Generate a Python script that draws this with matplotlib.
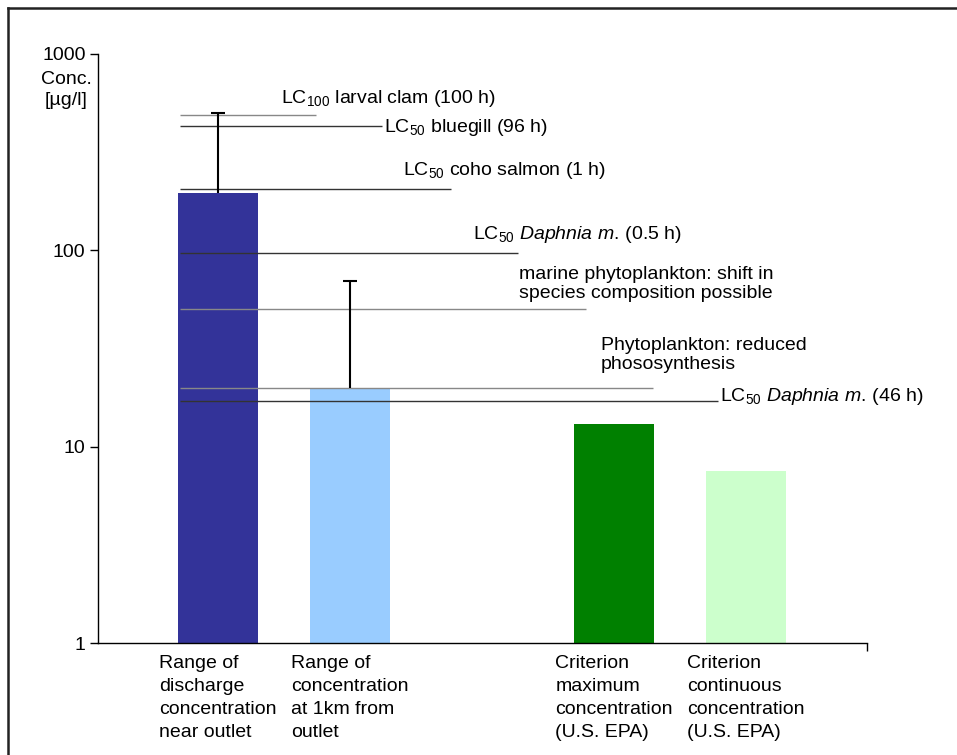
import matplotlib
matplotlib.use("Agg")
import matplotlib.pyplot as plt
from matplotlib.lines import Line2D
import numpy as np

plt.rcParams['font.family'] = ['Liberation Sans', 'DejaVu Sans']
plt.rcParams['mathtext.fontset'] = 'custom'
plt.rcParams['mathtext.rm'] = 'Liberation Sans'
plt.rcParams['mathtext.it'] = 'Liberation Sans:italic'

# data
categories = ['Range of\ndischarge\nconcentration\nnear outlet',
              'Range of\nconcentration\nat 1km from\noutlet',
              'Criterion\nmaximum\nconcentration\n(U.S. EPA)',
              'Criterion\ncontinuous\nconcentration\n(U.S. EPA)']
positions = [0, 1, 3, 4]
values = [195, 20, 13, 7.5]
upper = [500, 70, None, None]
bar_colors = ['#333399', '#99CCFF', '#008000', '#CCFFCC']

ref_labels = ['LC$_{100}$ larval clam (100 h)',
              'LC$_{50}$ bluegill (96 h)',
              'LC$_{50}$ coho salmon (1 h)',
              'LC$_{50}$ $\\mathit{Daphnia\\ m.}\\,$(0.5 h)',
              'marine phytoplankton: shift in\nspecies composition possible',
              'Phytoplankton: reduced\nphososynthesis',
              'LC$_{50}$ $\\mathit{Daphnia\\ m.}\\,$(46 h)']
ref_values = [490, 430, 205, 97, 50, 20, 17]

# layout (line ends in category units, label offsets in pixels)
ref_end = [0.742, 1.242, 1.765, 2.273, 2.788, 3.295, 3.788]
ref_off = [(-35, 16), (2, -2), (-48, 19), (-45, 18), (-67, 25), (-52, 33), (2, 5)]
ref_col = ['#888888', '#333333', '#333333', '#333333', '#888888', '#888888', '#333333']

W, H = 957, 755
fig = plt.figure(figsize=(W / 100, H / 100), dpi=100)
ax = fig.add_axes([98 / W, (H - 643) / H, (867 - 98) / W, (643 - 54) / H])

fs = 14
ax.bar(positions, values, width=0.6, color=bar_colors, zorder=2)

cap = 0.053
for p, v, u in zip(positions, values, upper):
    if u is not None:
        ax.vlines(p, v, u, colors='black', linewidth=1.5, zorder=4)
        ax.hlines(u, p - cap, p + cap, colors='black', linewidth=1.5, zorder=4)

for v, lab, e, off, c in zip(ref_values, ref_labels, ref_end, ref_off, ref_col):
    ax.hlines(v, -0.29, e, colors=c, linewidth=1, zorder=3)
    ax.annotate(lab, xy=(e, v), xytext=off, textcoords='offset pixels',
                ha='left', va='center', fontsize=fs, linespacing=1.15)

ax.set_yscale('log')
ax.set_ylim(1, 1000)
ax.set_xlim(-0.909, 4.917)
ax.set_yticks([1, 10, 100, 1000])
ax.set_yticklabels(['1', '10', '100', '1000'])
ax.yaxis.set_minor_locator(matplotlib.ticker.NullLocator())
ax.tick_params(axis='y', direction='out', length=6, width=1, labelsize=fs, pad=3)

ax.set_xticks(positions)
ax.set_xticklabels(categories, fontsize=fs, multialignment='left', linespacing=1.45)
ax.tick_params(axis='x', length=0, pad=9)
ax.set_xticks([4.917], minor=True)
ax.tick_params(axis='x', which='minor', length=6, width=1, direction='out')

for s in ['top', 'right']:
    ax.spines[s].set_visible(False)
for s in ['left', 'bottom']:
    ax.spines[s].set_linewidth(1)

fig.text(66 / W, 1 - 71 / H, 'Conc.\n[µg/l]', ha='center', va='top', fontsize=fs,
         multialignment='center', linespacing=1.3)

# frame around the chart area (only top and left visible)
fig.add_artist(Line2D([8 / W, 8 / W], [0, 1 - 8 / H], color='#222222', linewidth=1.8))
fig.add_artist(Line2D([8 / W, 1], [1 - 8 / H, 1 - 8 / H], color='#222222', linewidth=1.8))

fig.savefig('out.png', dpi=100)
